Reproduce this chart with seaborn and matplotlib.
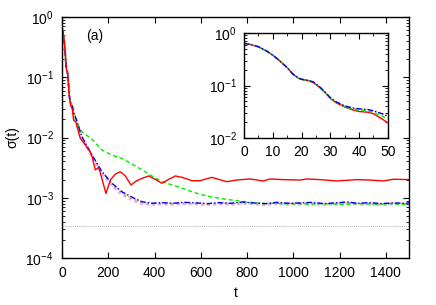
import numpy as np
import seaborn as sns
import matplotlib
matplotlib.use("Agg")
import matplotlib.pyplot as plt
from matplotlib.ticker import MultipleLocator, LogLocator, NullFormatter

# # # values # # #

# early decay (same for everything up to t = 35, visible in the inset)
t_inset = [0, 2, 5, 8, 10, 12, 15, 17, 19, 20, 22, 24, 26, 28, 30, 32, 35, 38, 40, 43, 45, 48, 50]
inset_blue = [0.64, 0.61, 0.55, 0.45, 0.38, 0.31, 0.22, 0.165, 0.138, 0.132, 0.127, 0.118,
              0.098, 0.077, 0.059, 0.049, 0.041, 0.037, 0.036, 0.035, 0.033, 0.029, 0.026]
inset_green = [0.64, 0.61, 0.55, 0.45, 0.38, 0.31, 0.22, 0.165, 0.137, 0.131, 0.125, 0.115,
               0.095, 0.075, 0.057, 0.048, 0.040, 0.035, 0.034, 0.033, 0.031, 0.026, 0.023]
inset_red = [0.64, 0.61, 0.55, 0.45, 0.38, 0.31, 0.22, 0.165, 0.137, 0.131, 0.125, 0.115,
             0.095, 0.075, 0.057, 0.047, 0.039, 0.034, 0.032, 0.031, 0.029, 0.023, 0.0195]

# later part of the main panel
t_red = [60, 65, 79, 101, 122, 130, 144, 159, 170, 190, 209, 231, 252, 274, 298, 317, 339,
         375, 403, 432, 461, 490, 519, 562, 597, 647, 712, 760, 813, 870, 899, 957, 1029,
         1058, 1115, 1187, 1274, 1330, 1389, 1432, 1500]
sigma_red = [0.018, 0.0151, 0.0097, 0.0075, 0.0058, 0.0048, 0.0029, 0.0032, 0.00224, 0.00118,
             0.00197, 0.00248, 0.0027, 0.0023, 0.00163, 0.00185, 0.00205, 0.0023, 0.00202,
             0.00174, 0.00202, 0.0023, 0.00218, 0.00192, 0.00192, 0.00218, 0.00185, 0.00198,
             0.00205, 0.0019, 0.00205, 0.002, 0.00197, 0.00205, 0.002, 0.0019, 0.002, 0.00197,
             0.0019, 0.00203, 0.002]

t_green = [60, 70, 86, 130, 173, 216, 259, 303, 346, 389, 432, 476, 519, 562, 597, 654, 712,
           770, 813, 870, 920, 970, 1020, 1070, 1120, 1170, 1220, 1270, 1320, 1370, 1420, 1470, 1500]
sigma_green = [0.02, 0.016, 0.0125, 0.0093, 0.0062, 0.0051, 0.0045, 0.00363, 0.0029, 0.0023,
               0.00185, 0.00163, 0.00144, 0.00126, 0.00114, 0.00102, 0.00094, 0.00088, 0.00084,
               0.0008, 0.00081, 0.00079, 0.0008, 0.00078, 0.0008, 0.00079, 0.00077, 0.0008,
               0.00079, 0.00078, 0.0008, 0.00078, 0.00079]

t_blue = [58, 86, 130, 173, 216, 259, 303, 346, 389, 430, 480, 530, 580, 630, 680, 730, 780,
          830, 880, 930, 980, 1030, 1080, 1130, 1180, 1230, 1280, 1330, 1380, 1430, 1480, 1500]
sigma_blue = [0.022, 0.0103, 0.0051, 0.0027, 0.00174, 0.00126, 0.00102, 0.00086, 0.00081,
              0.00083, 0.00081, 0.00084, 0.00082, 0.0008, 0.00083, 0.00081, 0.00085, 0.00082,
              0.0008, 0.00084, 0.00081, 0.00082, 0.00084, 0.0008, 0.00082, 0.00085, 0.00081,
              0.00083, 0.0008, 0.00082, 0.00081, 0.00082]
sigma_orange = [0.022, 0.0102, 0.005, 0.00265, 0.0017, 0.0012, 0.00098, 0.00084, 0.0008,
                0.00081, 0.0008, 0.00082, 0.00081, 0.00079, 0.00081, 0.0008, 0.00082, 0.00081,
                0.00079, 0.00082, 0.0008, 0.00081, 0.00082, 0.00079, 0.00081, 0.00083, 0.0008,
                0.00081, 0.00079, 0.00081, 0.0008, 0.0008]
sigma_pink = [0.0212, 0.0099, 0.0048, 0.00255, 0.0016, 0.00114, 0.00093, 0.0008, 0.00078,
              0.00079, 0.00078, 0.0008, 0.00079, 0.00077, 0.00079, 0.00078, 0.00081, 0.00079,
              0.00077, 0.0008, 0.00078, 0.00079, 0.0008, 0.00077, 0.00079, 0.00081, 0.00078,
              0.00079, 0.00077, 0.00079, 0.00078, 0.00078]

sigma_ref = 3.4e-4

# # # style # # #

sns.set_style("ticks")
plt.rcParams['font.family'] = ['Liberation Sans', 'DejaVu Sans']
plt.rcParams['mathtext.fontset'] = 'custom'
plt.rcParams['mathtext.rm'] = 'Liberation Sans'
plt.rcParams['mathtext.it'] = 'Liberation Sans:italic'
plt.rcParams['font.size'] = 10
plt.rcParams['axes.linewidth'] = 1.0
plt.rcParams['axes.edgecolor'] = 'black'
plt.rcParams['xtick.color'] = 'black'
plt.rcParams['ytick.color'] = 'black'
plt.rcParams['text.color'] = 'black'
plt.rcParams['axes.labelcolor'] = 'black'

fig = plt.figure(figsize=(4.36, 3.05), dpi=100)
ax = fig.add_axes([0.1422, 0.1541, 0.7959, 0.790])

main = [
    (t_inset + t_blue, inset_blue + sigma_pink, '#c9a0f0', (0, (1, 1)), 2.2, 0.8),
    (t_inset + t_blue, inset_blue + sigma_orange, '#ffa500', (0, (1, 1.5)), 1.0, 1.0),
    (t_inset + t_green, inset_green + sigma_green, '#00ee00', (0, (3, 2)), 1.0, 1.0),
    (t_inset + t_blue, inset_blue + sigma_blue, '#0000ff', (0, (4, 1.5, 1, 1.5)), 1.0, 1.0),
    (t_inset + t_red, inset_red + sigma_red, '#ff0000', '-', 1.0, 1.0),
]

ax.axhline(sigma_ref, color='#999999', lw=0.6, ls=(0, (1, 1.5)), zorder=1)
for tt, ss, col, ls, lw, al in main:
    sns.lineplot(x=tt, y=ss, ax=ax, color=col, linestyle=ls, lw=lw, alpha=al,
                 estimator=None, sort=False)

ax.set_yscale('log')
ax.set_xlim(0, 1500)
ax.set_ylim(1e-4, 1)
ax.xaxis.set_major_locator(MultipleLocator(200))
ax.yaxis.set_major_locator(LogLocator(base=10, numticks=10))
ax.yaxis.set_minor_locator(LogLocator(base=10, subs=np.arange(2, 10), numticks=10))
ax.yaxis.set_minor_formatter(NullFormatter())
ax.tick_params(which='both', direction='in', top=True, right=True)
ax.tick_params(which='major', length=4, pad=6)
ax.tick_params(which='minor', length=2)
ax.set_xlabel('t', labelpad=4)
ax.set_ylabel('σ(t)', labelpad=4)
ax.text(0.07, 0.95, '(a)', transform=ax.transAxes, va='top', ha='left')

# # # inset # # #

axi = fig.add_axes([0.5596, 0.5475, 0.330, 0.344])
inset = [
    (inset_blue, '#ffa500', (0, (1, 1.5))),
    (inset_red, '#ff0000', '-'),
    (inset_green, '#00ee00', (0, (3, 2))),
    (inset_blue, '#0000ff', (0, (4, 1.5, 1, 1.5))),
]
for ss, col, ls in inset:
    sns.lineplot(x=t_inset, y=ss, ax=axi, color=col, linestyle=ls, lw=1.0,
                 estimator=None, sort=False)
axi.set_yscale('log')
axi.set_xlim(0, 50)
axi.set_ylim(1e-2, 1)
axi.xaxis.set_major_locator(MultipleLocator(10))
axi.xaxis.set_minor_locator(MultipleLocator(5))
axi.yaxis.set_major_locator(LogLocator(base=10, numticks=10))
axi.yaxis.set_minor_locator(LogLocator(base=10, subs=np.arange(2, 10), numticks=10))
axi.yaxis.set_minor_formatter(NullFormatter())
axi.tick_params(which='both', direction='in', top=True, right=True)
axi.tick_params(which='major', length=4, pad=5)
axi.tick_params(which='minor', length=2)
axi.set_xlabel('')
axi.set_ylabel('')

fig.savefig('out.png', dpi=100)
